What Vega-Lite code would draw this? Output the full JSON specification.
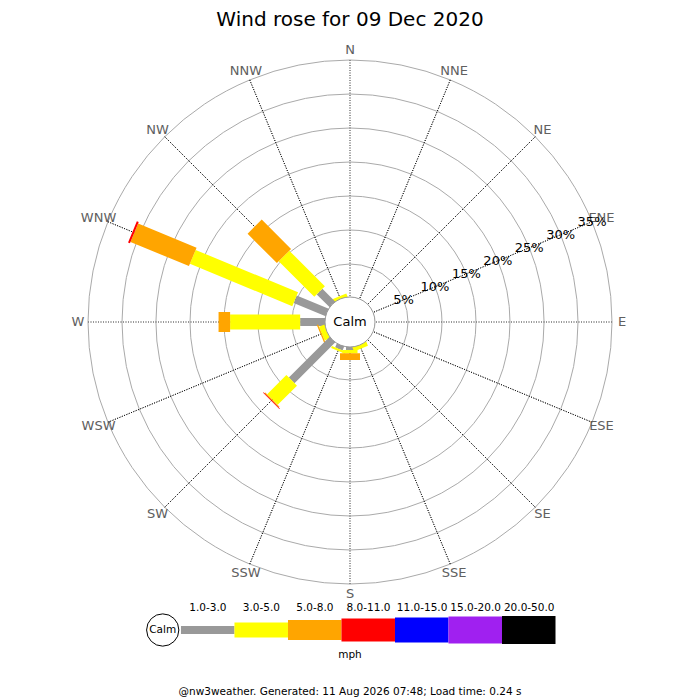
{
  "$schema": "https://vega.github.io/schema/vega-lite/v6.json",
  "padding": {"top": 10, "left": 0, "right": 0, "bottom": 0},
  "background": "white",
  "config": {"font": "DejaVu Sans", "view": {"stroke": null}},
  "datasets": {
    "dirs": [
      {"dir": "N", "angle": 0}, {"dir": "NNE", "angle": 22.5}, {"dir": "NE", "angle": 45}, {"dir": "ENE", "angle": 67.5},
      {"dir": "E", "angle": 90}, {"dir": "ESE", "angle": 112.5}, {"dir": "SE", "angle": 135}, {"dir": "SSE", "angle": 157.5},
      {"dir": "S", "angle": 180}, {"dir": "SSW", "angle": 202.5}, {"dir": "SW", "angle": 225}, {"dir": "WSW", "angle": 247.5},
      {"dir": "W", "angle": 270}, {"dir": "WNW", "angle": 292.5}, {"dir": "NW", "angle": 315}, {"dir": "NNW", "angle": 337.5}
    ],
    "rings": [
      {"ring": 5, "label": "5%"}, {"ring": 10, "label": "10%"}, {"ring": 15, "label": "15%"}, {"ring": 20, "label": "20%"},
      {"ring": 25, "label": "25%"}, {"ring": 30, "label": "30%"}, {"ring": 35, "label": "35%"}
    ],
    "wind": [
      {"dir": "NNW", "angle": 337.5, "speed": "3.0-5.0", "lo": 3, "pct": 0.55},
      {"dir": "NW", "angle": 315, "speed": "1.0-3.0", "lo": 1, "pct": 2.8},
      {"dir": "NW", "angle": 315, "speed": "3.0-5.0", "lo": 3, "pct": 7.4},
      {"dir": "NW", "angle": 315, "speed": "5.0-8.0", "lo": 5, "pct": 6.1},
      {"dir": "WNW", "angle": 292.5, "speed": "1.0-3.0", "lo": 1, "pct": 5.2},
      {"dir": "WNW", "angle": 292.5, "speed": "3.0-5.0", "lo": 3, "pct": 16.3},
      {"dir": "WNW", "angle": 292.5, "speed": "5.0-8.0", "lo": 5, "pct": 9.3},
      {"dir": "WNW", "angle": 292.5, "speed": "8.0-11.0", "lo": 8, "pct": 0.3},
      {"dir": "W", "angle": 270, "speed": "1.0-3.0", "lo": 1, "pct": 3.8},
      {"dir": "W", "angle": 270, "speed": "3.0-5.0", "lo": 3, "pct": 10.3},
      {"dir": "W", "angle": 270, "speed": "5.0-8.0", "lo": 5, "pct": 1.7},
      {"dir": "WSW", "angle": 247.5, "speed": "1.0-3.0", "lo": 1, "pct": 0.1},
      {"dir": "WSW", "angle": 247.5, "speed": "3.0-5.0", "lo": 3, "pct": 0.85},
      {"dir": "WSW", "angle": 247.5, "speed": "5.0-8.0", "lo": 5, "pct": 0.2},
      {"dir": "SW", "angle": 225, "speed": "1.0-3.0", "lo": 1, "pct": 8.6},
      {"dir": "SW", "angle": 225, "speed": "3.0-5.0", "lo": 3, "pct": 4.0},
      {"dir": "SW", "angle": 225, "speed": "5.0-8.0", "lo": 5, "pct": 0.15},
      {"dir": "SW", "angle": 225, "speed": "8.0-11.0", "lo": 8, "pct": 0.1},
      {"dir": "SSW", "angle": 202.5, "speed": "1.0-3.0", "lo": 1, "pct": 0.75},
      {"dir": "SSW", "angle": 202.5, "speed": "3.0-5.0", "lo": 3, "pct": 0.3},
      {"dir": "S", "angle": 180, "speed": "1.0-3.0", "lo": 1, "pct": 0.6},
      {"dir": "S", "angle": 180, "speed": "3.0-5.0", "lo": 3, "pct": 0.45},
      {"dir": "S", "angle": 180, "speed": "5.0-8.0", "lo": 5, "pct": 1.0},
      {"dir": "SSE", "angle": 157.5, "speed": "3.0-5.0", "lo": 3, "pct": 0.7}
    ],
    "classes": [
      {"speed": "1.0-3.0", "lo": 1}, {"speed": "3.0-5.0", "lo": 3}, {"speed": "5.0-8.0", "lo": 5},
      {"speed": "8.0-11.0", "lo": 8}, {"speed": "11.0-15.0", "lo": 11}, {"speed": "15.0-20.0", "lo": 15},
      {"speed": "20.0-50.0", "lo": 20}
    ]
  },
  "title": {"text": "@nw3weather. Generated: 11 Aug 2026 07:48; Load time: 0.24 s", "orient": "bottom", "anchor": "middle", "fontSize": 10.5, "fontWeight": "normal", "color": "#000000", "offset": 26},
  "bounds": "flush",
  "center": true,
  "spacing": 8,
  "vconcat": [
    {
      "title": {"text": "Wind rose for 09 Dec 2020", "anchor": "middle", "fontSize": 20, "fontWeight": "normal", "color": "#000000", "offset": 10},
      "width": 700,
      "height": 564,
      "layer": [
        {
          "data": {"name": "rings"},
          "mark": {"type": "arc", "filled": false, "stroke": "#aaaaaa", "strokeWidth": 1, "theta": 0, "theta2": 6.283185307179586},
          "encoding": {
            "radius": {"field": "ring", "type": "quantitative", "stack": null, "scale": {"type": "linear", "domain": [0, 35], "range": [24, 262], "zero": false, "nice": false}}
          }
        },
        {
          "data": {"name": "dirs"},
          "transform": [{"filter": "datum.angle % 90 == 0"}],
          "mark": {"type": "arc", "filled": false, "stroke": "#777777", "strokeWidth": 1, "strokeDash": [1, 1.5]},
          "encoding": {
            "theta": {"field": "angle", "type": "quantitative", "stack": null, "scale": {"type": "linear", "domain": [0, 360], "range": [0, 6.283185307179586], "zero": false, "nice": false}},
            "theta2": {"field": "angle"},
            "radius": {"datum": 35, "type": "quantitative", "scale": {"type": "linear", "domain": [0, 35], "range": [24, 262], "zero": false, "nice": false}},
            "radius2": {"datum": 0}
          }
        },
        {
          "data": {"name": "dirs"},
          "transform": [{"filter": "datum.angle % 90 != 0"}],
          "mark": {"type": "arc", "filled": false, "stroke": "#000000", "strokeWidth": 0.8, "strokeDash": [1, 1.5]},
          "encoding": {
            "theta": {"field": "angle", "type": "quantitative", "stack": null, "scale": {"type": "linear", "domain": [0, 360], "range": [0, 6.283185307179586], "zero": false, "nice": false}},
            "theta2": {"field": "angle"},
            "radius": {"datum": 35, "type": "quantitative", "scale": {"type": "linear", "domain": [0, 35], "range": [24, 262], "zero": false, "nice": false}},
            "radius2": {"datum": 0}
          }
        },
        {
          "data": {"name": "wind"},
          "mark": {"type": "arc", "filled": false, "strokeJoin": "miter"},
          "encoding": {
            "theta": {"field": "angle", "type": "quantitative", "stack": null, "scale": {"type": "linear", "domain": [0, 360], "range": [0, 6.283185307179586], "zero": false, "nice": false}},
            "theta2": {"field": "angle"},
            "radius": {"field": "pct", "type": "quantitative", "stack": "zero", "scale": {"type": "linear", "domain": [0, 35], "range": [24, 262], "zero": false, "nice": false}},
            "stroke": {"field": "speed", "type": "nominal", "legend": null, "scale": {"domain": ["1.0-3.0", "3.0-5.0", "5.0-8.0", "8.0-11.0", "11.0-15.0", "15.0-20.0", "20.0-50.0"], "range": ["#999999", "#ffff00", "#ffa500", "#ff0000", "#0000ff", "#a020f0", "#000000"]}},
            "strokeWidth": {"field": "speed", "type": "ordinal", "legend": null, "scale": {"type": "ordinal", "domain": ["1.0-3.0", "3.0-5.0", "5.0-8.0", "8.0-11.0", "11.0-15.0", "15.0-20.0", "20.0-50.0"], "range": [8, 15, 20, 23, 25, 27, 28]}},
            "order": {"field": "lo", "type": "quantitative", "sort": "ascending"}
          }
        },
        {
          "data": {"values": [{"label": "Calm"}]},
          "mark": {"type": "arc", "fill": "#ffffff", "stroke": "#999999", "strokeWidth": 1, "theta": 0, "theta2": 6.283185307179586, "radius": 25},
          "encoding": {}
        },
        {
          "data": {"values": [{"label": "Calm"}]},
          "mark": {"type": "text", "fontSize": 13, "color": "#000000"},
          "encoding": {"text": {"field": "label"}}
        },
        {
          "data": {"name": "dirs"},
          "mark": {"type": "text", "fontSize": 13, "color": "#606060"},
          "encoding": {
            "theta": {"field": "angle", "type": "quantitative", "stack": null, "scale": {"type": "linear", "domain": [0, 360], "range": [0, 6.283185307179586], "zero": false, "nice": false}},
            "radius": {"datum": 36.5, "type": "quantitative", "scale": {"type": "linear", "domain": [0, 35], "range": [24, 262], "zero": false, "nice": false}},
            "text": {"field": "dir"}
          }
        },
        {
          "data": {"name": "rings"},
          "mark": {"type": "text", "fontSize": 13, "color": "#000000"},
          "encoding": {
            "theta": {"datum": 67.5, "type": "quantitative", "scale": {"type": "linear", "domain": [0, 360], "range": [0, 6.283185307179586], "zero": false, "nice": false}},
            "radius": {"field": "ring", "type": "quantitative", "stack": null, "scale": {"type": "linear", "domain": [0, 35], "range": [24, 262], "zero": false, "nice": false}},
            "text": {"field": "label"}
          }
        }
      ]
    },
    {
      "title": {"text": "mph", "orient": "bottom", "anchor": "middle", "fontSize": 10.5, "fontWeight": "normal", "color": "#000000", "offset": 2},
      "width": 411,
      "height": 36,
      "data": {"name": "classes"},
      "layer": [
        {
          "data": {"values": [{"label": "Calm"}]},
          "mark": {"type": "point", "shape": "circle", "size": 1040, "filled": true, "fill": "#ffffff", "stroke": "#000000", "strokeWidth": 1, "opacity": 1},
          "encoding": {
            "x": {"datum": -0.3408, "type": "quantitative", "axis": null, "scale": {"domain": [-0.6816, 7], "nice": false, "zero": false}}
          }
        },
        {
          "data": {"values": [{"label": "Calm"}]},
          "mark": {"type": "text", "fontSize": 10.5, "color": "#000000"},
          "encoding": {
            "x": {"datum": -0.3408, "type": "quantitative", "axis": null, "scale": {"domain": [-0.6816, 7], "nice": false, "zero": false}},
            "text": {"field": "label"}
          }
        },
        {
          "mark": {"type": "bar"},
          "encoding": {
            "x": {"aggregate": "count", "type": "quantitative", "stack": "zero", "axis": null, "scale": {"domain": [-0.6816, 7], "nice": false, "zero": false}},
            "fill": {"field": "speed", "type": "nominal", "legend": null, "scale": {"domain": ["1.0-3.0", "3.0-5.0", "5.0-8.0", "8.0-11.0", "11.0-15.0", "15.0-20.0", "20.0-50.0"], "range": ["#999999", "#ffff00", "#ffa500", "#ff0000", "#0000ff", "#a020f0", "#000000"]}},
            "size": {"field": "speed", "type": "ordinal", "legend": null, "scale": {"type": "ordinal", "domain": ["1.0-3.0", "3.0-5.0", "5.0-8.0", "8.0-11.0", "11.0-15.0", "15.0-20.0", "20.0-50.0"], "range": [8, 15, 20, 23, 25, 27, 28]}},
            "order": {"field": "lo", "type": "quantitative", "sort": "ascending"}
          }
        },
        {
          "mark": {"type": "text", "fontSize": 10.5, "color": "#000000", "dy": -22},
          "encoding": {
            "x": {"field": "speed", "type": "ordinal", "axis": null, "scale": {"type": "point", "padding": 0.8366, "align": 0.7065, "domain": ["1.0-3.0", "3.0-5.0", "5.0-8.0", "8.0-11.0", "11.0-15.0", "15.0-20.0", "20.0-50.0"]}},
            "text": {"field": "speed"}
          }
        }
      ],
      "resolve": {"scale": {"x": "independent"}}
    }
  ]
}
